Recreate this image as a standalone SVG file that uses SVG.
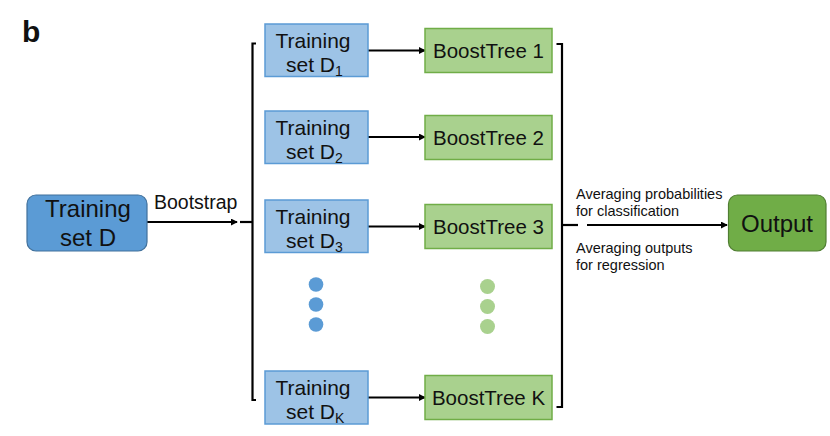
<svg xmlns="http://www.w3.org/2000/svg" width="830" height="436" viewBox="0 0 830 436">
<defs>
<marker id="ah" viewBox="0 0 8 8" refX="7" refY="4" markerWidth="7" markerHeight="7" markerUnits="userSpaceOnUse" orient="auto">
<path d="M0,0 L8,4 L0,8 z" fill="#000"/>
</marker>
<style>
text{font-family:"Liberation Sans",Arial,sans-serif;fill:#111;}
.ts{fill:#9dc3e6;stroke:#5b9bd5;stroke-width:1.5;}
.bt{fill:#a9d18e;stroke:#70ad47;stroke-width:1.5;}
.t21{font-size:21px;text-anchor:middle;}
.sub{font-size:14px;}
.cn{stroke:#000;stroke-width:2.2;fill:none;}
.small{font-size:14.5px;}
</style>
</defs>
<rect width="830" height="436" fill="#fff"/>
<text x="22" y="42" style="font-size:30px;font-weight:bold">b</text>

<g id="connectors">
<line class="cn" x1="147" y1="222" x2="237" y2="222" marker-end="url(#ah)"/>
<line class="cn" x1="240" y1="222" x2="252" y2="222"/>
<path class="cn" d="M256,43.5 H252.5 V400 H256"/>
<line class="cn" x1="368" y1="50.5" x2="425" y2="50.5" marker-end="url(#ah)"/>
<line class="cn" x1="368" y1="137" x2="425" y2="137" marker-end="url(#ah)"/>
<line class="cn" x1="368" y1="226.5" x2="425" y2="226.5" marker-end="url(#ah)"/>
<line class="cn" x1="368" y1="397.5" x2="425" y2="397.5" marker-end="url(#ah)"/>
<path class="cn" d="M556.5,44 H562 V407 H556.5"/>
<line class="cn" x1="562" y1="225" x2="578" y2="225"/>
<line class="cn" x1="587" y1="225" x2="727" y2="225" marker-end="url(#ah)"/>
</g>

<g id="trainingD">
<rect x="27" y="195" width="120" height="56" rx="9" fill="#5b9bd5" stroke="#41719c" stroke-width="1.2"/>
<text x="88" y="217" style="font-size:24px;text-anchor:middle">Training</text>
<text x="88" y="246" style="font-size:24px;text-anchor:middle">set D</text>
</g>
<text x="154" y="209" style="font-size:19.5px">Bootstrap</text>

<g id="ts1">
<rect class="ts" x="265" y="24" width="103" height="52.5"/>
<text class="t21" x="313" y="48">Training</text>
<text x="286" y="71.5" style="font-size:21px">set D<tspan class="sub" dy="4">1</tspan></text>
</g>
<g id="ts2">
<rect class="ts" x="265" y="111" width="103" height="52.5"/>
<text class="t21" x="313" y="135">Training</text>
<text x="286" y="158.5" style="font-size:21px">set D<tspan class="sub" dy="4">2</tspan></text>
</g>
<g id="ts3">
<rect class="ts" x="265" y="200" width="103" height="52.5"/>
<text class="t21" x="313" y="224">Training</text>
<text x="286" y="247.5" style="font-size:21px">set D<tspan class="sub" dy="4">3</tspan></text>
</g>
<g id="tsK">
<rect class="ts" x="265" y="371" width="103" height="53"/>
<text class="t21" x="313" y="395">Training</text>
<text x="286" y="418.5" style="font-size:21px">set D<tspan class="sub" dy="4">K</tspan></text>
</g>

<g id="dotsBlue" fill="#5b9bd5">
<circle cx="316" cy="284.5" r="7.3"/>
<circle cx="316" cy="304.5" r="7.3"/>
<circle cx="316" cy="324.5" r="7.3"/>
</g>

<g id="bt1">
<rect class="bt" x="425" y="28.5" width="127" height="44"/>
<text class="t21" x="488.5" y="58" style="font-size:20.5px">BoostTree 1</text>
</g>
<g id="bt2">
<rect class="bt" x="425" y="115.5" width="127" height="44"/>
<text class="t21" x="488.5" y="145" style="font-size:20.5px">BoostTree 2</text>
</g>
<g id="bt3">
<rect class="bt" x="425" y="204.5" width="127" height="44"/>
<text class="t21" x="488.5" y="234" style="font-size:20.5px">BoostTree 3</text>
</g>
<g id="btK">
<rect class="bt" x="425" y="375.5" width="127" height="44"/>
<text class="t21" x="488.5" y="405" style="font-size:20.5px">BoostTree K</text>
</g>

<g id="dotsGreen" fill="#a9d18e">
<circle cx="487.5" cy="286.5" r="7.5"/>
<circle cx="487.5" cy="306.5" r="7.5"/>
<circle cx="487.5" cy="326.5" r="7.5"/>
</g>

<g id="labels">
<text class="small" x="576" y="199">Averaging probabilities</text>
<text class="small" x="576" y="216">for classification</text>
<text class="small" x="576" y="253">Averaging outputs</text>
<text class="small" x="576" y="270">for regression</text>
</g>

<g id="output">
<rect x="728.5" y="195" width="97.5" height="56" rx="9" fill="#70ad47" stroke="#507e32" stroke-width="1.2"/>
<text x="777" y="232" style="font-size:24px;text-anchor:middle">Output</text>
</g>
</svg>
